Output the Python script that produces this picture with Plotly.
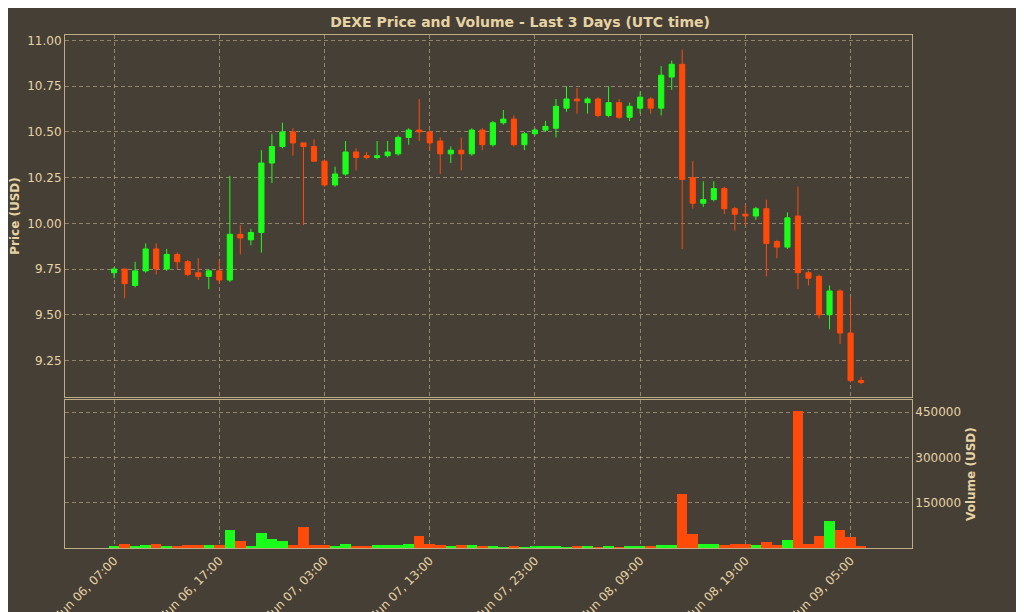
import pandas as pd
import plotly.graph_objects as go
from plotly.subplots import make_subplots

# hourly candles, Jun 06 07:00 -> Jun 09 06:00 (UTC)
opens = [9.73, 9.75, 9.66, 9.74, 9.86, 9.75, 9.83, 9.79, 9.73, 9.71, 9.74, 9.69, 9.94, 9.91, 9.95, 10.33,
         10.42, 10.50, 10.44, 10.42, 10.34, 10.21, 10.27, 10.39, 10.37, 10.36, 10.37, 10.38, 10.47, 10.51,
         10.50, 10.45, 10.38, 10.40, 10.38, 10.51, 10.43, 10.55, 10.57, 10.43, 10.49, 10.51, 10.52, 10.63,
         10.68, 10.66, 10.68, 10.59, 10.66, 10.58, 10.63, 10.68, 10.63, 10.80, 10.87, 10.25, 10.11, 10.13,
         10.19, 10.08, 10.05, 10.04, 10.08, 9.90, 9.87, 10.04, 9.73, 9.71, 9.50, 9.63, 9.40, 9.14]
closes = [9.75, 9.67, 9.74, 9.86, 9.75, 9.83, 9.79, 9.72, 9.71, 9.74, 9.69, 9.94, 9.92, 9.95, 10.33, 10.42,
          10.50, 10.44, 10.42, 10.34, 10.21, 10.27, 10.39, 10.36, 10.36, 10.37, 10.39, 10.47, 10.51, 10.50,
          10.44, 10.38, 10.40, 10.38, 10.51, 10.43, 10.55, 10.57, 10.43, 10.49, 10.51, 10.53, 10.64, 10.68,
          10.67, 10.68, 10.59, 10.66, 10.58, 10.64, 10.69, 10.63, 10.81, 10.87, 10.24, 10.11, 10.13, 10.19,
          10.08, 10.05, 10.04, 10.08, 9.89, 9.87, 10.03, 9.73, 9.70, 9.50, 9.63, 9.40, 9.14, 9.13]
highs = [9.76, 9.75, 9.79, 9.89, 9.89, 9.86, 9.84, 9.80, 9.81, 9.75, 9.80, 10.26, 9.99, 9.97, 10.40, 10.49,
         10.55, 10.52, 10.44, 10.46, 10.35, 10.31, 10.45, 10.41, 10.39, 10.45, 10.45, 10.48, 10.52, 10.68,
         10.51, 10.47, 10.42, 10.47, 10.52, 10.52, 10.56, 10.62, 10.59, 10.50, 10.52, 10.56, 10.68, 10.75,
         10.74, 10.69, 10.69, 10.75, 10.68, 10.66, 10.72, 10.69, 10.86, 10.89, 10.95, 10.34, 10.23, 10.23,
         10.20, 10.09, 10.10, 10.09, 10.13, 9.91, 10.06, 10.20, 9.74, 9.72, 9.66, 9.64, 9.60, 9.16]
lows = [9.70, 9.59, 9.65, 9.73, 9.72, 9.74, 9.75, 9.71, 9.69, 9.64, 9.67, 9.68, 9.83, 9.88, 9.84, 10.22,
        10.41, 10.37, 9.99, 10.34, 10.20, 10.20, 10.26, 10.29, 10.35, 10.35, 10.36, 10.37, 10.43, 10.45,
        10.40, 10.27, 10.33, 10.29, 10.37, 10.40, 10.42, 10.54, 10.42, 10.40, 10.48, 10.50, 10.47, 10.61,
        10.60, 10.60, 10.58, 10.58, 10.57, 10.56, 10.60, 10.60, 10.59, 10.73, 9.86, 10.08, 10.09, 10.12,
        10.05, 9.96, 9.99, 10.02, 9.71, 9.81, 9.86, 9.64, 9.66, 9.48, 9.42, 9.34, 9.13, 9.12]
volumes = [7000, 13000, 4000, 10000, 12000, 3000, 3000, 8000, 8000, 8000, 8000, 60000, 23000, 3000, 48000,
           31000, 23000, 10000, 68000, 8000, 10000, 3000, 12000, 3000, 3000, 8000, 10000, 10000, 12000,
           40000, 13000, 9000, 3000, 9000, 9000, 3000, 3000, 2000, 3000, 2000, 3000, 3000, 4000, 2000, 3000,
           3000, 2000, 3000, 2000, 4000, 4000, 3000, 10000, 10000, 180000, 45000, 12000, 12000, 10000,
           12000, 12000, 8000, 20000, 10000, 25000, 455000, 12000, 40000, 90000, 60000, 35000, 3000]

times = pd.date_range("2024-06-06 07:00", periods=len(opens), freq="h")
tick_times = pd.date_range("2024-06-06 07:00", periods=8, freq="10h")
tick_labels = [t.strftime("%b %d, %H:%M") for t in tick_times]

GREEN = "#1aff1a"
RED = "#ff4a0a"
BG = "#463f36"
TXT = "#e6d3a3"
GRID = "rgba(210,190,150,0.55)"

fig = make_subplots(rows=2, cols=1, shared_xaxes=True, vertical_spacing=0.006,
                    row_heights=[0.71, 0.29], specs=[[{}], [{"secondary_y": True}]])

fig.add_trace(go.Candlestick(x=times, open=opens, high=highs, low=lows, close=closes,
                             increasing=dict(line=dict(color=GREEN, width=1), fillcolor=GREEN),
                             decreasing=dict(line=dict(color=RED, width=1), fillcolor=RED),
                             showlegend=False), row=1, col=1)

vol_colors = [GREEN if c >= o else RED for o, c in zip(opens, closes)]
fig.add_trace(go.Bar(x=times, y=volumes, marker_color=vol_colors, marker_line_width=0,
                     showlegend=False), row=2, col=1, secondary_y=True)
fig.add_trace(go.Scatter(x=[times[0]], y=[None], showlegend=False), row=2, col=1, secondary_y=False)

x_range = [pd.Timestamp("2024-06-06 02:20"), pd.Timestamp("2024-06-09 10:50")]
axis_common = dict(showline=True, linecolor="#bfae85", linewidth=1, mirror=True, automargin=False,
                   gridcolor=GRID, griddash="4px,3px", zeroline=False, tickfont=dict(color=TXT, size=12))

fig.update_xaxes(range=x_range, rangeslider_visible=False, tickvals=tick_times, ticktext=tick_labels,
                 tickangle=-45, **axis_common)
fig.update_xaxes(showticklabels=False, row=1, col=1)
fig.update_yaxes(range=[9.05, 11.03], tickvals=[9.25, 9.5, 9.75, 10.0, 10.25, 10.5, 10.75, 11.0],
                 tickformat=".2f", title=dict(text="<b>Price (USD)</b>", font=dict(color=TXT, size=12), standoff=6),
                 row=1, col=1, **axis_common)
fig.update_yaxes(range=[0, 490000], showticklabels=False, tickvals=[150000, 300000, 450000],
                 row=2, col=1, secondary_y=False, **axis_common)
fig.update_yaxes(range=[0, 490000], tickvals=[150000, 300000, 450000], tickformat="d", side="right",
                 showgrid=False, title=dict(text="<b>Volume (USD)</b>", font=dict(color=TXT, size=12), standoff=6),
                 row=2, col=1, secondary_y=True, **axis_common)

fig.update_layout(
    width=1024, height=612,
    title=dict(text="<b>DEXE Price and Volume - Last 3 Days (UTC time)</b>", x=0.5, y=0.985,
               font=dict(color=TXT, size=14)),
    paper_bgcolor=BG, plot_bgcolor=BG,
    font=dict(family="DejaVu Sans", color=TXT),
    margin=dict(l=57, r=66, t=27, b=72),
    bargap=0.0,
)

fig.write_html("out.html")
